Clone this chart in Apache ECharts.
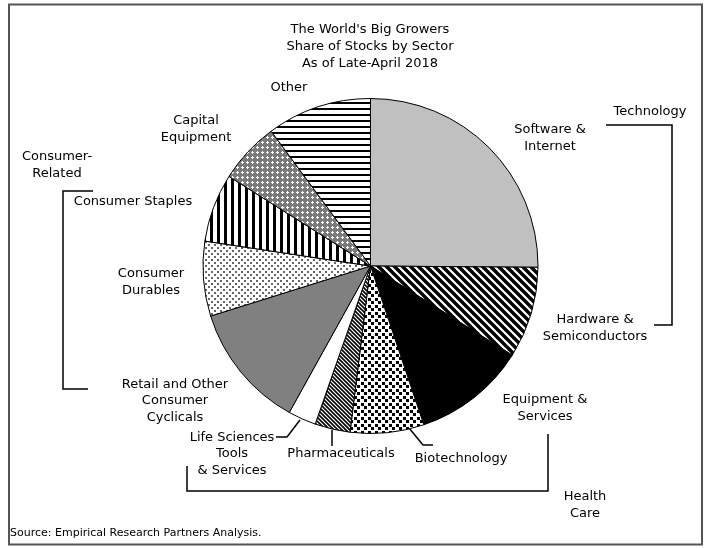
<!DOCTYPE html>
<html>
<head>
<meta charset="utf-8">
<script src="https://cdn.jsdelivr.net/npm/echarts@6/dist/echarts.min.js"></script>
<style>
  html, body { margin: 0; padding: 0; background: #fff; }
  #main { width: 707px; height: 548px; }
</style>
</head>
<body>
<div id="main"></div>
<script>
// sectors clockwise from 12 o'clock
const sectors = ['Software & Internet', 'Hardware & Semiconductors', 'Equipment & Services', 'Biotechnology',
  'Pharmaceuticals', 'Life Sciences Tools & Services', 'Retail and Other Consumer Cyclicals',
  'Consumer Durables', 'Consumer Staples', 'Capital Equipment', 'Other']
const shares = [25.1, 8.8, 10.9, 7.1, 3.4, 2.7, 12.1, 7.2, 6.6, 5.9, 10.1]
const sectorLabels = ['Software &\nInternet', 'Hardware &\nSemiconductors', 'Equipment &\nServices', 'Biotechnology',
  'Pharmaceuticals', 'Life Sciences\nTools\n& Services', 'Retail and Other\nConsumer\nCyclicals',
  'Consumer\nDurables', 'Consumer Staples', 'Capital\nEquipment', 'Other']
const groupLabels = ['Technology', 'Health\nCare', 'Consumer-\nRelated']
const titleLines = ["The World's Big Growers", 'Share of Stocks by Sector', 'As of Late-April 2018']
const sourceText = 'Source: Empirical Research Partners Analysis.'

const FONT = '"DejaVu Sans", Verdana, sans-serif'

// label placement (label centre) per sector
const labelPos = [
  [550, 138], [595, 328], [545, 408], [461, 459], [341, 454], [232, 454],
  [175, 401], [151, 282], [133, 202], [196, 129], [289, 88]
]
// leader lines for the small health care slices
const leaderLines = {
  3: [[409, 428], [423, 445], [433, 445]],
  4: [[332, 430], [332, 446]],
  5: [[300, 420], [287, 437], [276, 437]]
}

function makePattern(size, draw) {
  const c = document.createElement('canvas')
  c.width = size[0]
  c.height = size[1]
  const ctx = c.getContext('2d')
  ctx.fillStyle = '#fff'
  ctx.fillRect(0, 0, size[0], size[1])
  draw(ctx)
  return { image: c, repeat: 'repeat' }
}

function diagStripes(period, width) {
  return makePattern([period, period], ctx => {
    ctx.strokeStyle = '#000'
    ctx.lineWidth = width
    // "\" direction
    for (let k = -1; k <= 1; k++) {
      ctx.beginPath()
      ctx.moveTo(k * period - 1, -1)
      ctx.lineTo(k * period + period + 1, period + 1)
      ctx.stroke()
    }
  })
}

const fills = [
  '#c0c0c0',
  diagStripes(8, 3.4),
  '#000',
  makePattern([7, 7], ctx => {
    ctx.fillStyle = '#000'
    ctx.fillRect(0, 0, 3, 3)
    ctx.fillRect(4, 4, 3, 3)
    ctx.fillRect(4, 0, 0, 0)
  }),
  diagStripes(4, 1.6),
  '#fff',
  '#808080',
  makePattern([6, 6], ctx => {
    ctx.fillStyle = '#666'
    ctx.fillRect(1, 1, 2, 2)
    ctx.fillRect(4, 4, 2, 2)
  }),
  makePattern([7, 7], ctx => {
    ctx.fillStyle = '#000'
    ctx.fillRect(0, 0, 3, 7)
  }),
  makePattern([5, 5], ctx => {
    ctx.fillStyle = '#7a7a7a'
    ctx.fillRect(0, 0, 5, 5)
    ctx.fillStyle = '#fff'
    ctx.fillRect(2, 1, 1, 3)
    ctx.fillRect(1, 2, 3, 1)
  }),
  makePattern([6, 6], ctx => {
    ctx.fillStyle = '#000'
    ctx.fillRect(0, 0, 6, 2)
  })
]

const pieData = sectors.map((name, i) => ({
  name: name,
  value: shares[i],
  itemStyle: { color: fills[i] },
  label: { formatter: sectorLabels[i] },
  labelLine: { show: !!leaderLines[i] }
}))

const chart = echarts.init(document.getElementById('main'), null, { renderer: 'canvas' })

const bracketStyle = { stroke: '#000', lineWidth: 1.5, fill: null }
const textStyle = (x, y, text, extra) => ({
  type: 'text',
  x: x,
  y: y,
  style: Object.assign({
    text: text,
    fill: '#000',
    font: '13px ' + FONT,
    align: 'center',
    verticalAlign: 'middle',
    lineHeight: 16.5
  }, extra || {})
})

chart.setOption({
  animation: false,
  backgroundColor: '#fff',
  graphic: [
    {
      type: 'rect',
      shape: { x: 9, y: 4.5, width: 693, height: 540 },
      style: { fill: null, stroke: '#555', lineWidth: 2 }
    },
    textStyle(370, 47, titleLines.join('\n'), { lineHeight: 17 }),
    textStyle(650, 112, groupLabels[0]),
    textStyle(585, 505, groupLabels[1]),
    textStyle(57, 165, groupLabels[2]),
    // technology bracket
    { type: 'polyline', shape: { points: [[606, 125], [672, 125], [672, 325], [654, 325]] }, style: bracketStyle },
    // health care bracket
    { type: 'polyline', shape: { points: [[187, 466], [187, 491], [548, 491], [548, 434]] }, style: bracketStyle },
    // consumer bracket
    { type: 'polyline', shape: { points: [[93, 191], [63, 191], [63, 389], [88, 389]] }, style: bracketStyle },
    textStyle(10, 533, sourceText, { align: 'left', font: '11px ' + FONT })
  ],
  series: [
    {
      type: 'pie',
      center: [370.5, 266],
      radius: 167.5,
      startAngle: 90,
      clockwise: true,
      data: pieData,
      itemStyle: { borderColor: '#000', borderWidth: 1 },
      label: {
        show: true,
        color: '#000',
        fontFamily: FONT,
        fontSize: 13,
        lineHeight: 16.5,
        align: 'center'
      },
      labelLine: {
        lineStyle: { color: '#000', width: 1.5 }
      },
      labelLayout: function (params) {
        const p = labelPos[params.dataIndex]
        const res = {
          x: p[0],
          y: p[1],
          align: 'center',
          verticalAlign: 'middle'
        }
        if (leaderLines[params.dataIndex]) {
          res.labelLinePoints = leaderLines[params.dataIndex]
        }
        return res
      }
    }
  ]
})
</script>
</body>
</html>
